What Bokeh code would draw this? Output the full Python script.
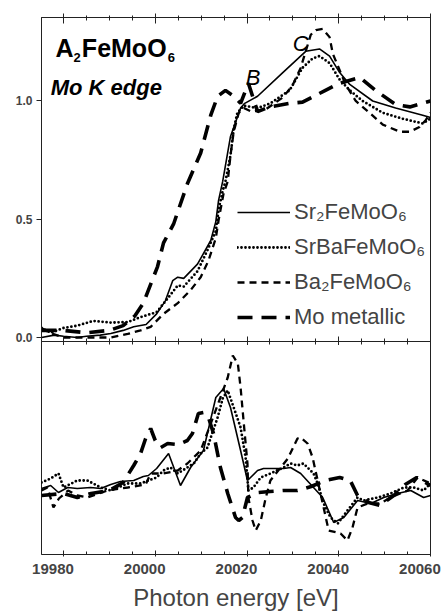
from bokeh.plotting import figure
from bokeh.models import Range1d, FixedTicker, LinearAxis, Legend, LegendItem, Label
from bokeh.layouts import column
from bokeh.embed import file_html
from bokeh.resources import INLINE

# ---------------- data: upper panel (normalised absorption) ----------------
sr2_e = [19975.2, 19978, 19980, 19983, 19985, 19988, 19990.3, 19993, 19995.3, 19998, 20000.3, 20002.2,
         20003.8, 20004.9, 20006.2, 20009.2, 20012.1, 20013.2, 20013.8, 20014.7, 20016.4, 20018.6, 20019.5,
         20022.3, 20027.8, 20032.8, 20035.8, 20038, 20040.2, 20042.4, 20047.4, 20052.4, 20058.3, 20060]
sr2_mu = [0.0, 0.01, 0.005, 0.0, 0.005, 0.01, 0.017, 0.03, 0.045, 0.055, 0.1, 0.155,
          0.24, 0.255, 0.25, 0.31, 0.41, 0.49, 0.58, 0.66, 0.85, 0.97, 0.99,
          1.02, 1.12, 1.21, 1.22, 1.19, 1.12, 1.07, 1.0, 0.97, 0.94, 0.93]

srba_e = [19975.2, 19977.2, 19980, 19983, 19986.5, 19990.3, 19994, 19996.8, 20000.3, 20002.7, 20004.9,
          20006.2, 20009.2, 20011.4, 20013.2, 20013.8, 20014.7, 20015.3, 20016.4, 20017.1, 20017.9, 20019.3,
          20022.3, 20025.1, 20029.3, 20032.1, 20034.3, 20035.8, 20038, 20040.2, 20042.4, 20045.2, 20049.6,
          20053.9, 20058.3, 20060]
srba_mu = [0.04, 0.02, 0.04, 0.05, 0.07, 0.063, 0.065, 0.086, 0.107, 0.165, 0.22,
           0.215, 0.28, 0.37, 0.45, 0.54, 0.62, 0.66, 0.77, 0.88, 0.95, 0.98,
           0.97, 0.99, 1.045, 1.14, 1.18, 1.19, 1.16, 1.09, 1.045, 1.0, 0.95,
           0.925, 0.905, 0.925]

ba_e = [19975.2, 19977, 19980, 19985, 19990.3, 19994, 19996.8, 19999, 20001.8, 20004.9, 20007.7, 20009.9,
        20011.6, 20013.2, 20013.8, 20014.9, 20015.8, 20016.4, 20017.1, 20018.2, 20019.3, 20021, 20024.1,
        20027.8, 20029.9, 20031.7, 20032.8, 20033.9, 20035, 20036.5, 20038, 20038.7, 20040.2, 20041.5,
        20043.7, 20046.7, 20049.6, 20053.3, 20055.5, 20057.6, 20059, 20060]
ba_mu = [0.04, 0.02, 0.0, 0.0, 0.0, 0.015, 0.03, 0.045, 0.1, 0.145, 0.2, 0.255,
         0.325, 0.42, 0.495, 0.61, 0.66, 0.77, 0.87, 0.95, 0.97, 0.955, 0.965,
         1.015, 1.065, 1.14, 1.21, 1.28, 1.30, 1.305, 1.27, 1.20, 1.13, 1.07,
         1.0, 0.95, 0.90, 0.87, 0.87, 0.89, 0.92, 0.95]

mo_e = [19975.2, 19980, 19985, 19990, 19993, 19995.5, 19997.4, 20000.5, 20001.8, 20004, 20007, 20009.9,
        20012.1, 20013.6, 20015.3, 20017.1, 20018.6, 20020.3, 20022.3, 20024.9, 20029.3, 20032.1, 20037.1,
        20040.2, 20044.6, 20048, 20052.4, 20055.5, 20060]
mo_mu = [0.03, 0.03, 0.02, 0.03, 0.05, 0.09, 0.145, 0.30, 0.40, 0.48, 0.65, 0.78,
         0.94, 1.02, 1.045, 1.02, 0.99, 1.075, 0.955, 0.975, 0.99, 0.995, 1.045,
         1.075, 1.10, 1.045, 0.985, 0.975, 1.0]

# ---------------- data: lower panel (derivative, arb. units) ----------------
sr2_d_e = [19975.2, 19977.2, 19978.9, 19980.9, 19983, 19985.9, 19988.1, 19990.3, 19992.4, 19995.3, 19997.4,
           19998.5, 20000.3, 20002.9, 20005.5, 20007.7, 20010.5, 20013.2, 20014.9, 20016.4, 20018.6, 20020.1,
           20022.3, 20023.6, 20028, 20029.5, 20031.7, 20034.5, 20036.5, 20038.9, 20041.1, 20044.1, 20047,
           20049.8, 20052.8, 20055.7, 20058.5, 20060]
sr2_d = [0.02, 0.05, -0.02, 0.03, 0.02, 0.03, 0.02, 0.06, 0.09, 0.1, 0.14,
         0.15, 0.22, 0.37, 0.05, 0.23, 0.4, 0.93, 1.02, 0.83, 0.4, 0.1,
         0.2, 0.22, 0.22, 0.23, 0.17, 0.03, -0.07, -0.32, -0.27, -0.1, -0.13,
         -0.07, -0.03, 0.0, -0.07, -0.05]

srba_d_e = [19975.2, 19977.2, 19978.9, 19980, 19983, 19985.2, 19988.1, 19990.3, 19994, 19996.8, 20000.3,
            20001.8, 20003.3, 20004.9, 20007, 20008.4, 20009.9, 20011.4, 20012.1, 20013.6, 20014.7, 20015.8,
            20017.1, 20018.6, 20019.7, 20020.3, 20021.4, 20023, 20025.1, 20028, 20029.5, 20031, 20032.3,
            20034.5, 20035.4, 20036.7, 20038.2, 20039.8, 20041.9, 20044.1, 20045.4, 20048.5, 20051.3,
            20054.2, 20056.3, 20058.5, 20060]
srba_d = [0.08, 0.12, 0.17, 0.03, 0.1, 0.1, 0.03, 0.0, 0.07, 0.07, 0.13,
          0.2, 0.23, 0.17, 0.23, 0.27, 0.37, 0.43, 0.53, 0.73, 0.92, 1.0,
          0.83, 0.63, 0.33, 0.0, 0.03, 0.13, 0.17, 0.23, 0.27, 0.25, 0.27,
          0.17, 0.07, -0.13, -0.27, -0.33, -0.2, -0.07, -0.1, -0.07, -0.03,
          0.03, 0.03, 0.0, 0.07]

ba_d_e = [19975.2, 19976.5, 19977.8, 19979, 19981, 19983, 19985.2, 19989.6, 19994, 19997.9, 19999,
          20001.8, 20004.9, 20007, 20009.9, 20012.1, 20014.2, 20015.8, 20016.9, 20018, 20018.6, 20019.3,
          20020.1, 20020.3, 20021.2, 20021.9, 20023, 20024.1, 20025.1, 20028.9, 20031, 20031.7, 20033.2,
          20034.3, 20035.4, 20036.7, 20037.8, 20040.4, 20041.9, 20043, 20044.1, 20046.3, 20049.1, 20051.3,
          20055, 20057.2, 20060]
ba_d = [0.0, 0.03, -0.17, -0.08, 0.0, -0.05, -0.07, 0.0, 0.03, 0.06, 0.17,
        0.17, 0.2, 0.27, 0.4, 0.67, 0.93, 1.13, 1.35, 1.27, 1.03, 0.67,
        0.27, -0.07, -0.3, -0.4, -0.3, -0.07, 0.1, 0.32, 0.52, 0.53, 0.47,
        0.33, 0.1, -0.17, -0.4, -0.43, -0.5, -0.37, -0.17, -0.13, -0.13, -0.07,
        0.0, 0.13, 0.07]

mo_d_e = [19975.2, 19980, 19983, 19986, 19990, 19993, 19995.3, 19996.8, 19997.9, 19999, 20000,
          20001.2, 20002.7, 20005, 20007, 20008.1, 20009.4, 20010.5, 20011.6, 20012.7, 20014.2, 20015.8,
          20017.5, 20018.2, 20019, 20020.1, 20022.5, 20025, 20028, 20031, 20034, 20037, 20040.2,
          20042.5, 20044.1, 20046.5, 20049, 20052, 20054.5, 20057, 20060]
mo_d = [-0.05, -0.03, -0.07, -0.03, 0.0, 0.08, 0.25, 0.37, 0.52, 0.62, 0.5,
        0.43, 0.47, 0.46, 0.5, 0.57, 0.77, 0.78, 0.73, 0.57, 0.23, -0.03,
        -0.27, -0.3, -0.27, -0.07, -0.02, -0.01, 0.0, 0.0, 0.04, 0.1, 0.13,
        0.1, -0.05, -0.12, -0.15, -0.05, 0.06, 0.13, 0.05]

x_major = [19980, 20000, 20020, 20040, 20060]
x_minor = [19975 + 5 * i for i in range(18)]
y_major = [0.0, 0.5, 1.0]
labels = ["Sr\u2082FeMoO\u2086", "SrBaFeMoO\u2086", "Ba\u2082FeMoO\u2086", "Mo metallic"]

FONT = "Liberation Sans"
X0, X1 = 19975.2, 20060.0
AX = "#222222"

STY = [
    dict(line_color="black", line_width=1.6),
    dict(line_color="black", line_width=2.8, line_dash="0 4", line_cap="round"),
    dict(line_color="black", line_width=2.3, line_dash="7 5"),
    dict(line_color="black", line_width=3.6, line_dash="15 9"),
]


def hide_labels(ax):
    ax.major_label_text_font_size = "0px"
    ax.major_label_text_color = None
    ax.major_label_standoff = 0


def x_ticks(ax, tin, tout, min_in, min_out):
    ax.ticker = FixedTicker(ticks=x_major, minor_ticks=x_minor)
    ax.major_tick_in = tin
    ax.major_tick_out = tout
    ax.minor_tick_in = min_in
    ax.minor_tick_out = min_out
    ax.axis_line_color = AX
    ax.major_tick_line_color = AX
    ax.minor_tick_line_color = AX


# ---------------- top panel ----------------
top = figure(width=444, height=345, x_range=Range1d(X0, X1), y_range=Range1d(-0.017, 1.353),
             output_backend="svg", toolbar_location=None, x_axis_location="above",
             min_border_left=41, min_border_right=14, min_border_top=17, min_border_bottom=4)
top.grid.visible = False
top.outline_line_color = AX
top.background_fill_color = "white"
top.border_fill_color = "white"

ax_top = top.above[0]
x_ticks(ax_top, 6, 4, 3, 2)
hide_labels(ax_top)

ax_mid = LinearAxis()
x_ticks(ax_mid, 5, 4, 3, 3)
hide_labels(ax_mid)
top.add_layout(ax_mid, "below")

yax = top.yaxis[0]
yax.ticker = FixedTicker(ticks=y_major, minor_ticks=[])
yax.major_label_overrides = {0.0: "0.0", 0.5: "0.5", 1.0: "1.0"}
yax.major_tick_in = 0
yax.major_tick_out = 5
yax.minor_tick_line_color = None
yax.axis_line_color = AX
yax.major_tick_line_color = AX
yax.major_label_text_font = FONT
yax.major_label_text_font_style = "bold"
yax.major_label_text_font_size = "12px"
yax.major_label_standoff = 4

r1 = top.line(sr2_e, sr2_mu, **STY[0])
r2 = top.line(srba_e, srba_mu, **STY[1])
r3 = top.line(ba_e, ba_mu, **STY[2])
r4 = top.line(mo_e, mo_mu, **STY[3])

legend = Legend(items=[LegendItem(label=labels[i], renderers=[r]) for i, r in enumerate([r1, r2, r3, r4])],
                location=(196, 9), glyph_width=53, glyph_height=30, label_height=30, spacing=5,
                label_standoff=4, padding=0, margin=0, border_line_color=None, background_fill_alpha=0,
                label_text_font=FONT, label_text_font_size="22px")
top.add_layout(legend)


def lab(p, x, y, text, size, style="normal"):
    p.add_layout(Label(x=x, y=y, text=text, text_font=FONT, text_font_size=size, text_font_style=style,
                       text_baseline="alphabetic", text_align="left", text_color="black"))


lab(top, 19978.25, 1.222, "A", "25px", "bold")
lab(top, 19982.2, 1.184, "2", "13px", "bold")
lab(top, 19984.0, 1.222, "FeMoO", "25px", "bold")
lab(top, 20002.7, 1.184, "6", "13px", "bold")
lab(top, 19977.2, 1.057, "Mo K edge", "22px", "bold italic")
lab(top, 20019.7, 1.099, "B", "22px", "italic")
lab(top, 20029.95, 1.243, "C", "22px", "italic")

# ---------------- bottom panel ----------------
bot = figure(width=444, height=274, x_range=top.x_range, y_range=Range1d(-0.64, 1.49),
             output_backend="svg", toolbar_location=None, y_axis_location=None,
             min_border_left=41, min_border_right=14, min_border_top=0, min_border_bottom=61,
             margin=(-4, 0, 0, 0))
bot.grid.visible = False
bot.outline_line_color = AX
bot.background_fill_alpha = 0
bot.border_fill_alpha = 0

ax_b = bot.below[0]
x_ticks(ax_b, 4, 2, 3, 0)
hide_labels(ax_b)

bot.extra_x_ranges = {"lbl": Range1d(X0 + 2.3, X1 + 2.3)}
ax_lbl = LinearAxis(x_range_name="lbl", ticker=FixedTicker(ticks=x_major, minor_ticks=[]))
ax_lbl.axis_line_color = None
ax_lbl.major_tick_line_color = None
ax_lbl.minor_tick_line_color = None
ax_lbl.major_tick_in = 0
ax_lbl.major_tick_out = 0
ax_lbl.major_label_text_font = FONT
ax_lbl.major_label_text_font_style = "bold"
ax_lbl.major_label_text_font_size = "15px"
ax_lbl.major_label_standoff = 7
ax_lbl.axis_label = "Photon energy [eV]"
ax_lbl.axis_label_text_font = FONT
ax_lbl.axis_label_text_font_style = "normal"
ax_lbl.axis_label_text_font_size = "24px"
ax_lbl.axis_label_standoff = 7
bot.add_layout(ax_lbl, "below")

bot.line(sr2_d_e, sr2_d, **STY[0])
bot.line(srba_d_e, srba_d, **STY[1])
bot.line(ba_d_e, ba_d, **STY[2])
bot.line(mo_d_e, mo_d, **STY[3])

layout = column(top, bot, spacing=0)
open("out.html", "w").write(file_html(layout, INLINE))
